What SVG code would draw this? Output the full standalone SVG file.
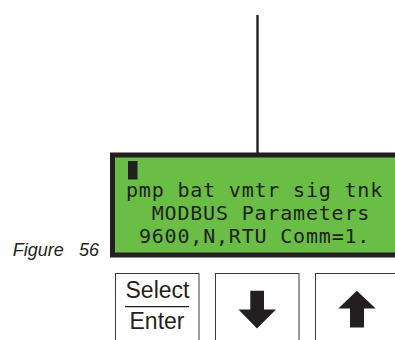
<svg xmlns="http://www.w3.org/2000/svg" width="395" height="340" viewBox="0 0 395 340">
<style>
.lcd{font-family:"DejaVu Sans Mono","Liberation Mono",monospace;font-size:20px;letter-spacing:0.81px;fill:#231f20}
.key{fill:#fff;stroke:#3a3a3a;stroke-width:1}
.lbl{font-family:"Liberation Sans",Arial,sans-serif;font-size:23px;fill:#231f20;text-anchor:middle}
.fig{font-family:"Liberation Sans",Arial,sans-serif;font-size:18px;font-style:italic;fill:#231f20}
.arrow{fill:#231f20}
</style>
<rect width="395" height="340" fill="#fff"/>
<g id="connectors">
<line x1="257.5" y1="15" x2="257.5" y2="155" stroke="#231f20" stroke-width="2.4"/>
</g>
<g id="display">
<rect x="112.5" y="155" width="300" height="100" fill="#6abd45" stroke="#231f20" stroke-width="5"/>
<rect x="128" y="161" width="9.5" height="18.5" fill="#231f20"/>
<text class="lcd" x="126" y="196.5">pmp bat vmtr sig tnk</text>
<text class="lcd" x="151.7" y="219.8">MODBUS Parameters</text>
<text class="lcd" x="138.9" y="243">9600,N,RTU Comm=1.</text>
</g>
<g id="caption">
<text class="fig" x="12.7" y="256">Figure <tspan x="79">56</tspan></text>
</g>
<g id="key-select">
<rect class="key" x="115.5" y="273.5" width="83.5" height="80"/>
<text class="lbl" x="157.5" y="298">Select</text>
<line x1="125" y1="306.7" x2="189" y2="306.7" stroke="#231f20" stroke-width="1.2"/>
<text class="lbl" x="157" y="328.5">Enter</text>
</g>
<g id="key-down">
<rect class="key" x="215.5" y="273.5" width="83.5" height="80"/>
<polygon class="arrow" points="250.3,290.7 264,290.7 264,309.5 276,309.5 257,328.5 238.5,309.5 250.3,309.5"/>
</g>
<g id="key-up">
<rect class="key" x="315.5" y="273.5" width="90" height="80"/>
<polygon class="arrow" points="356.8,290.7 375.7,308.5 364,308.5 364,327.5 350,327.5 350,308.5 338.3,308.5"/>
</g>
</svg>
